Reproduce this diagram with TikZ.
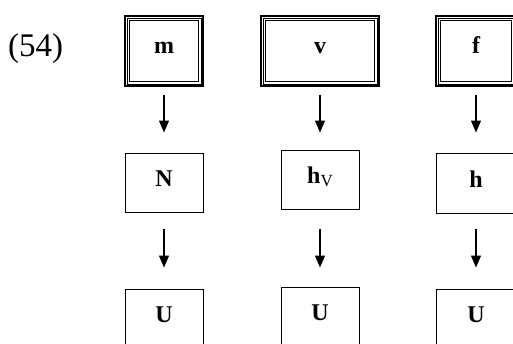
\documentclass[tikz,border=0pt]{standalone}
\usepackage{fontspec}
\setmainfont{Liberation Serif}
\usetikzlibrary{arrows.meta}
\begin{document}
\begin{tikzpicture}[x=1pt,y=-1pt,
  box/.style={draw, line width=1pt, inner sep=0pt},
  triplebox/.style={draw, line width=1.3pt, inner sep=0pt,
    path picture={
      \draw[line width=0.5pt] ([shift={(1.8pt,-1.8pt)}]path picture bounding box.north west) rectangle ([shift={(-1.8pt,1.8pt)}]path picture bounding box.south east);
      \draw[line width=1.2pt] ([shift={(4.5pt,-4.5pt)}]path picture bounding box.north west) rectangle ([shift={(-4.5pt,4.5pt)}]path picture bounding box.south east);
    }},
  lbl/.style={font=\fontsize{24}{28}\selectfont\bfseries, anchor=base, inner sep=0pt},
  arr/.style={-{Triangle[length=12pt,width=10pt]}, line width=1.2pt}]
\useasboundingbox (0,0) rectangle (513,343);
\node[anchor=base west, inner sep=0pt, font=\fontsize{33}{38}\selectfont] (num) at (8,56) {(54)};
% top row
\node[triplebox, minimum width=78, minimum height=70] (m) at (164,51) {};
\node[triplebox, minimum width=118, minimum height=70] (v) at (320,51) {};
\node[triplebox, minimum width=80, minimum height=70] (f) at (476,51) {};
\node[lbl] (tm) at (164,53) {m};
\node[lbl] (tv) at (320,53) {v};
\node[lbl] (tf) at (476,53) {f};
% middle row
\node[box, minimum width=78, minimum height=59] (N) at (164,182.5) {};
\node[box, minimum width=78, minimum height=59] (hV) at (320,179.5) {};
\node[box, minimum width=80, minimum height=60] (h) at (476,183) {};
\node[lbl] (tN) at (164,186.5) {N};
\node[lbl] (thV) at (320,183) {h\raisebox{-3pt}{\fontsize{17}{17}\selectfont\mdseries V}};
\node[lbl] (th) at (476,187) {h};
% bottom row
\node[box, minimum width=78, minimum height=62] (U1) at (164,320) {};
\node[box, minimum width=78, minimum height=62] (U2) at (320,318) {};
\node[box, minimum width=80, minimum height=62] (U3) at (476,320) {};
\node[lbl] (tU1) at (164,322) {U};
\node[lbl] (tU2) at (320,320) {U};
\node[lbl] (tU3) at (476,322) {U};
% arrows
\draw[arr, shorten <=8pt, shorten >=20pt] (m.south) -- (N.north);
\draw[arr, shorten <=8pt, shorten >=17pt] (v.south) -- (hV.north);
\draw[arr, shorten <=8pt, shorten >=20pt] (f.south) -- (h.north);
\draw[arr, shorten <=16pt, shorten >=21pt] (N.south) -- (U1.north);
\draw[arr, shorten <=19pt, shorten >=19pt] (hV.south) -- (U2.north);
\draw[arr, shorten <=15pt, shorten >=21pt] (h.south) -- (U3.north);
\end{tikzpicture}
\end{document}
